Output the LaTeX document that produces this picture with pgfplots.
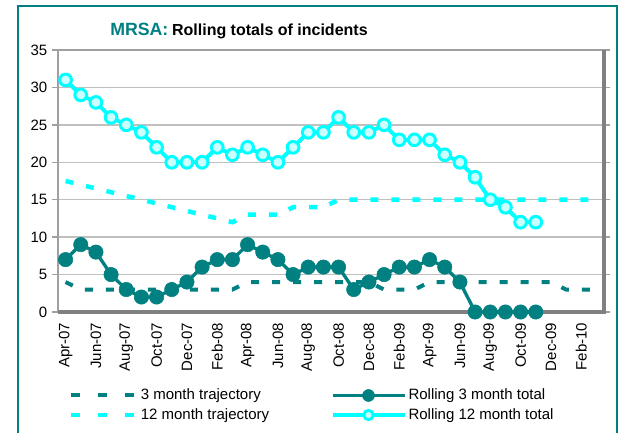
\documentclass[border=0pt]{standalone}
\usepackage{pgfplots}
\pgfplotsset{compat=1.18}
\usepackage{fontspec}
\setmainfont{Liberation Sans}
\definecolor{teal8}{RGB}{0,128,128}
\definecolor{cyanX}{RGB}{0,255,255}
\definecolor{lightcyan}{RGB}{204,255,255}
\definecolor{gridgray}{RGB}{192,192,192}
\definecolor{bordergray}{RGB}{128,128,128}
\definecolor{bordergrayL}{RGB}{160,160,160}
\pgfplotsset{
  trajleg/.style={legend image code/.code={\draw[##1, dash pattern=on 6.75pt off 13.5pt] (0pt,0pt) -- (47.25pt,0pt);}},
  rollleg/.style={legend image code/.code={\draw[mark repeat=2, mark phase=2, ##1, mark size=#1] plot coordinates {(0pt,0pt)(27pt,0pt)(54pt,0pt)};}},
}
\begin{document}
\begin{tikzpicture}[x=0.75pt,y=0.75pt]
\useasboundingbox (0,0) rectangle (627,432);
\draw[teal8, line width=1.5pt] (18,-4) -- (18,426) -- (617,426) -- (617,-4);
\node[anchor=base west, inner sep=0pt] at (110,396)
  {\bfseries{\color{teal8}\fontsize{13.3}{15}\selectfont MRSA:} \fontsize{12}{14}\selectfont Rolling totals of incidents};
\begin{axis}[
  name=ax,
  at={(43.5pt,90pt)}, anchor=south west,
  scale only axis, width=409.5pt, height=196.5pt,
  xmin=-0.5, xmax=35.5, ymin=0, ymax=35,
  clip=false,
  xtick={0,2,...,34},
  xticklabels={Apr-07,Jun-07,Aug-07,Oct-07,Dec-07,Feb-08,Apr-08,Jun-08,Aug-08,Oct-08,Dec-08,Feb-09,Apr-09,Jun-09,Aug-09,Oct-09,Dec-09,Feb-10},
  ytick={0,5,...,35},
  ymajorgrids, grid style={gridgray, line width=1.1pt},
  axis line style={draw=none},
  tick align=outside, major tick length=4.5pt,
  ytick style={bordergrayL, line width=1pt},
  xtick style={draw=none},
  ticklabel style={font=\fontsize{11.25}{13}\selectfont},
  xticklabel style={rotate=90, anchor=east},
  /pgf/number format/assume math mode=true,
  legend columns=2,
  legend cell align=left,
  legend style={at={(rel axis cs:0.0183,-0.288)}, anchor=north west, draw=none, fill=none,
    inner sep=0pt, font=\fontsize{11.25}{13}\selectfont, row sep=3pt,
    nodes={inner xsep=0pt, inner ysep=1pt},
    /tikz/column 1/.style={column sep=3.75pt},
    /tikz/column 2/.style={column sep=46pt},
    /tikz/column 3/.style={column sep=1.5pt}},
]
\draw[bordergrayL, line width=1.3pt] (rel axis cs:0,0) -- (rel axis cs:0,1) -- (rel axis cs:1,1);
\draw[bordergray, line width=2.4pt] (rel axis cs:0,0) -- (rel axis cs:1,0) -- (rel axis cs:1,1);

\addplot[teal8, line width=3pt, dash pattern=on 6pt off 9.75pt, trajleg]
  coordinates {(0,4)(1,3)(2,3)(3,3)(4,3)(5,3)(6,3)(7,3)(8,3)(9,3)(10,3)(11,3)
  (12,4)(13,4)(14,4)(15,4)(16,4)(17,4)(18,4)(19,4)(20,4)(21,3)(22,3)(23,3)
  (24,4)(25,4)(26,4)(27,4)(28,4)(29,4)(30,4)(31,4)(32,4)(33,3)(34,3)(35,3)};
\addlegendentry{3 month trajectory}

\addplot[teal8, line width=2.5pt, mark=*, mark size=5.4pt,
  mark options={fill=teal8, draw=teal8, line width=0.4pt, solid}, rollleg=4.5pt]
  coordinates {(0,7)(1,9)(2,8)(3,5)(4,3)(5,2)(6,2)(7,3)(8,4)(9,6)(10,7)(11,7)
  (12,9)(13,8)(14,7)(15,5)(16,6)(17,6)(18,6)(19,3)(20,4)(21,5)(22,6)(23,6)
  (24,7)(25,6)(26,4)(27,0)(28,0)(29,0)(30,0)(31,0)};
\addlegendentry{Rolling 3 month total}

\addplot[cyanX, line width=3.4pt, dash pattern=on 6pt off 9.75pt, trajleg]
  coordinates {(0,17.5)(1,17)(2,16.5)(3,16)(4,15.5)(5,15)(6,14.5)(7,14)(8,13.5)(9,13)(10,12.5)(11,12)
  (12,13)(13,13)(14,13)(15,14)(16,14)(17,14)(18,15)(19,15)(20,15)(21,15)(22,15)(23,15)
  (24,15)(25,15)(26,15)(27,15)(28,15)(29,15)(30,15)(31,15)(32,15)(33,15)(34,15)(35,15)};
\addlegendentry{12 month trajectory}

\addplot[cyanX, line width=3pt, mark=*, mark size=4.4pt,
  mark options={fill=lightcyan, draw=cyanX, line width=2.2pt, solid}, rollleg=3.5pt]
  coordinates {(0,31)(1,29)(2,28)(3,26)(4,25)(5,24)(6,22)(7,20)(8,20)(9,20)(10,22)(11,21)
  (12,22)(13,21)(14,20)(15,22)(16,24)(17,24)(18,26)(19,24)(20,24)(21,25)(22,23)(23,23)
  (24,23)(25,21)(26,20)(27,18)(28,15)(29,14)(30,12)(31,12)};
\addlegendentry{Rolling 12 month total}
\end{axis}
\end{tikzpicture}
\end{document}
